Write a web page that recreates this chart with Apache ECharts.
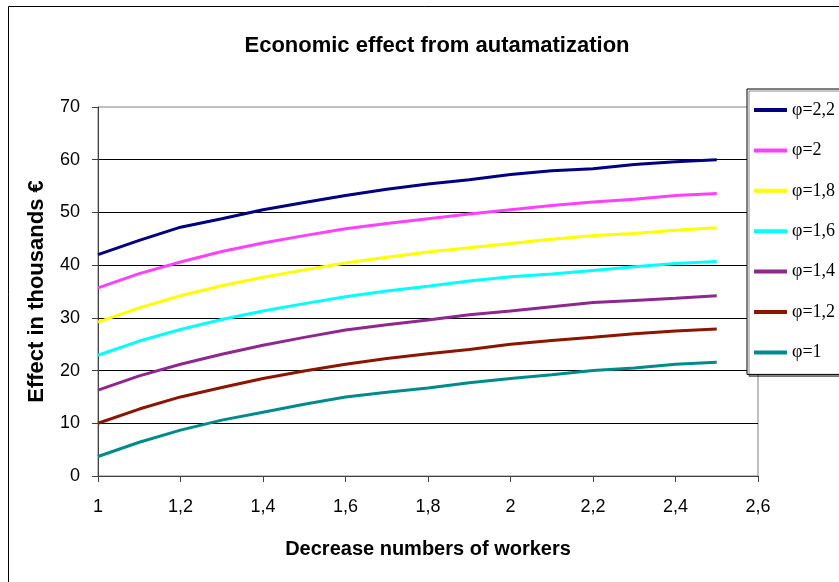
<!DOCTYPE html>
<html>
<head>
<meta charset="utf-8">
<script src="https://cdn.jsdelivr.net/npm/echarts@6/dist/echarts.min.js"></script>
<style>
html,body{margin:0;padding:0;background:#fff;}
#main{width:839px;height:582px;}
</style>
</head>
<body>
<div id="main"></div>
<script>
// x values (decrease numbers of workers)
var xs = [1, 1.1, 1.2, 1.3, 1.4, 1.5, 1.6, 1.7, 1.8, 1.9, 2, 2.1, 2.2, 2.3, 2.4, 2.5];

// effect in thousands, one row per phi
var phi22 = [42.0, 44.7, 47.2, 48.8, 50.5, 51.9, 53.2, 54.4, 55.4, 56.2, 57.2, 57.9, 58.3, 59.1, 59.6, 60.0];
var phi20 = [35.7, 38.4, 40.6, 42.6, 44.2, 45.6, 46.9, 47.9, 48.8, 49.7, 50.5, 51.3, 52.0, 52.5, 53.2, 53.6];
var phi18 = [29.2, 31.9, 34.2, 36.1, 37.7, 39.1, 40.4, 41.5, 42.5, 43.3, 44.1, 44.9, 45.6, 46.0, 46.6, 47.1];
var phi16 = [22.9, 25.6, 27.8, 29.7, 31.3, 32.7, 34.0, 35.1, 36.0, 37.0, 37.8, 38.3, 39.0, 39.7, 40.3, 40.7];
var phi14 = [16.3, 19.0, 21.2, 23.1, 24.8, 26.3, 27.7, 28.7, 29.6, 30.6, 31.3, 32.1, 32.9, 33.3, 33.7, 34.2];
var phi12 = [10.0, 12.7, 15.0, 16.8, 18.5, 19.9, 21.2, 22.3, 23.2, 24.0, 25.0, 25.7, 26.3, 27.0, 27.5, 27.9];
var phi10 = [3.7, 6.4, 8.7, 10.6, 12.1, 13.6, 15.0, 15.9, 16.7, 17.7, 18.5, 19.2, 20.0, 20.5, 21.2, 21.6];

var seriesNames = ['φ=2,2', 'φ=2', 'φ=1,8', 'φ=1,6', 'φ=1,4', 'φ=1,2', 'φ=1'];
var seriesData = [phi22, phi20, phi18, phi16, phi14, phi12, phi10];
var seriesColors = ['#000080', '#FF40FF', '#FFFF00', '#00FFFF', '#8E278E', '#8B1500', '#008B8B'];

function pairs(vals) {
    var out = [];
    for (var i = 0; i < xs.length; i++) {
        out.push([xs[i], vals[i]]);
    }
    return out;
}

// 1,2 instead of 1.2
function commaLabel(v) {
    return String(Math.round(v * 10) / 10).replace('.', ',');
}

var chart = echarts.init(document.getElementById('main'));

var series = [];
for (var k = 0; k < seriesNames.length; k++) {
    series.push({
        name: seriesNames[k],
        type: 'line',
        data: pairs(seriesData[k]),
        showSymbol: false,
        symbol: 'none',
        lineStyle: {width: 3, color: seriesColors[k]},
        itemStyle: {color: seriesColors[k]},
        silent: true
    });
}

var option = {
    backgroundColor: '#fff',
    animation: false,
    title: {
        text: 'Economic effect from autamatization',
        left: 432,
        top: 30,
        textAlign: 'center',
        textStyle: {fontFamily: 'Liberation Sans, Arial', fontWeight: 'bold', fontSize: 22, color: '#000'}
    },
    grid: {
        left: 98, right: 81, top: 107, bottom: 106,
        show: true, borderColor: '#808080', borderWidth: 1
    },
    legend: {
        orient: 'vertical',
        left: 747,
        top: 89,
        padding: [11, 30, 12, 7],
        itemGap: 20.4,
        itemWidth: 33,
        itemHeight: 4,
        icon: 'rect',
        backgroundColor: '#fff',
        borderColor: '#000',
        borderWidth: 1,
        shadowColor: 'rgba(0,0,0,0.45)',
        shadowBlur: 0,
        shadowOffsetX: 2,
        shadowOffsetY: 2,
        textStyle: {fontFamily: 'Liberation Serif, Times New Roman', fontSize: 18, color: '#000', lineHeight: 20},
        data: seriesNames
    },
    xAxis: {
        type: 'value',
        min: 1,
        max: 2.6,
        interval: 0.2,
        name: 'Decrease numbers of workers',
        nameLocation: 'middle',
        nameGap: 63,
        nameTextStyle: {fontFamily: 'Liberation Sans, Arial', fontWeight: 'bold', fontSize: 20, color: '#000'},
        axisLine: {show: true, lineStyle: {color: '#404040', width: 1}},
        axisTick: {show: true, inside: false, length: 6, lineStyle: {color: '#404040'}},
        axisLabel: {
            margin: 22,
            fontFamily: 'Liberation Sans, Arial', fontSize: 18, color: '#000',
            formatter: commaLabel
        },
        splitLine: {show: false}
    },
    yAxis: {
        type: 'value',
        min: 0,
        max: 70,
        interval: 10,
        name: 'Effect in thousands €',
        nameLocation: 'middle',
        nameGap: 50,
        nameTextStyle: {fontFamily: 'Liberation Sans, Arial', fontWeight: 'bold', fontSize: 22, color: '#000'},
        axisLine: {show: true, lineStyle: {color: '#404040', width: 1}},
        axisTick: {show: true, inside: false, length: 6, lineStyle: {color: '#404040'}},
        axisLabel: {margin: 18, fontFamily: 'Liberation Sans, Arial', fontSize: 18, color: '#000'},
        splitLine: {show: true, showMinLine: false, showMaxLine: false, lineStyle: {color: '#000', width: 1}}
    },
    graphic: [{
        type: 'rect',
        shape: {x: 8.5, y: 6.5, width: 840, height: 600},
        style: {fill: 'none', stroke: '#000', lineWidth: 1},
        silent: true,
        z: -1
    }],
    series: series
};

chart.setOption(option);
</script>
</body>
</html>
